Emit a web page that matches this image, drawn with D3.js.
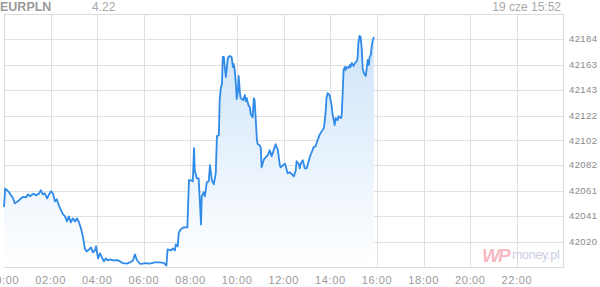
<!DOCTYPE html>
<html><head><meta charset="utf-8">
<script src="https://cdn.jsdelivr.net/npm/d3@7"></script>
<style>
html,body{margin:0;padding:0;background:#fff;}
svg{display:block;font-family:"Liberation Sans",Arial,sans-serif;}
</style></head>
<body>
<svg id="chart" width="600" height="287"></svg>
<script>
// ---- data ----
const symbol = "EURPLN";
const lastPrice = "4.22";
const stamp = "19 cze 15:52";
// minutes after midnight
const times = [0,3,8,13,18,23,28,36,41,49,57,62,67,75,82,90,95,100,105,111,116,121,126,131,136,141,147,152,157,162,167,172,177,183,188,193,198,203,208,213,219,224,229,234,237,242,247,252,257,262,267,273,280,291,298,306,316,324,332,337,342,350,357,365,375,388,401,411,418,421,429,435,440,442,447,450,455,463,472,476,481,486,489,491,496,501,504,507,509,514,517,522,527,530,535,540,545,548,553,555,558,561,563,566,568,571,573,576,581,586,589,591,594,597,599,602,604,607,609,615,617,620,622,625,627,630,633,635,640,643,645,651,653,658,661,663,669,674,679,684,689,694,699,705,710,712,717,723,728,730,735,741,746,751,753,759,761,764,769,774,779,782,787,792,797,802,807,813,818,823,825,828,830,833,838,841,843,846,849,851,854,859,861,867,869,872,874,877,879,882,887,890,892,895,900,903,908,910,912,915,918,921,923,926,931,933,936,939,941,944,946,949,952];
const values = [42047.9,42062.9,42061.5,42059.9,42057.4,42055.2,42050.9,42052.6,42054.2,42056.1,42055.8,42058.2,42056.6,42058.8,42057.4,42058.8,42061.5,42058.2,42059.0,42055.0,42058.2,42060.7,42059.0,42052.6,42054.2,42049.3,42045.3,42042.0,42040.4,42036.3,42040.4,42035.5,42038.8,42036.3,42038.8,42035.5,42030.7,42024.2,42014.4,42012.0,42013.6,42015.3,42011.2,42012.8,42016.1,42006.3,42010.4,42007.1,42003.9,42006.3,42004.7,42005.5,42004.7,42004.9,42004.1,42002.5,42002.2,42003.1,42004.7,42009.6,42005.1,42002.0,42002.2,42002.5,42002.2,42003.1,42003.1,42002.7,42000.6,42013.6,42012.8,42014.4,42012.8,42017.7,42016.1,42027.4,42029.9,42031.5,42031.5,42069.6,42069.6,42068.8,42095.6,42077.7,42071.2,42071.2,42053.4,42033.9,42056.6,42059.9,42056.6,42068.0,42068.8,42081.8,42069.6,42066.4,42075.3,42105.3,42106.1,42134.5,42144.2,42147.5,42169.4,42169.4,42162.1,42153.2,42158.8,42168.6,42170.2,42169.4,42161.3,42163.7,42158.8,42146.7,42135.3,42141.8,42154.0,42141.0,42136.1,42134.5,42136.1,42138.6,42133.7,42136.1,42132.9,42129.6,42128.8,42123.1,42120.7,42136.1,42134.5,42102.1,42098.8,42098.0,42095.6,42080.1,42086.6,42088.3,42089.9,42093.9,42089.1,42093.9,42098.8,42093.9,42081.4,42080.1,42081.4,42083.1,42077.7,42075.3,42076.1,42074.5,42072.8,42077.7,42085.0,42082.6,42079.3,42083.4,42085.8,42079.3,42079.3,42082.6,42088.3,42092.3,42096.4,42097.2,42102.1,42106.9,42109.4,42111.8,42115.9,42125.6,42136.1,42140.2,42138.6,42133.7,42130.5,42122.3,42118.3,42114.2,42119.9,42118.3,42121.5,42119.9,42121.5,42142.6,42158.8,42161.3,42158.8,42161.3,42160.5,42162.9,42161.3,42164.5,42162.1,42164.5,42166.1,42168.6,42180.7,42186.4,42185.6,42175.1,42160.5,42156.4,42154.0,42158.8,42167.0,42162.9,42169.4,42171.0,42177.5,42182.4,42185.6];
const yTicks = [42020,42041,42061,42082,42102,42122,42143,42163,42184];
const xTickHours = [0,2,4,6,8,10,12,14,16,18,20,22];
const xTickLabels = ["00:00","02:00","04:00","06:00","08:00","10:00","12:00","14:00","16:00","18:00","20:00","22:00"];
const yDomain = [41999.8, 42204.2];
const xDomain = [0, 1440];

// ---- drawing ----
const svg = d3.select("#chart");
const L = 4, R = 563.5, T = 14, B = 266.5;
const x = d3.scaleLinear().domain(xDomain).range([L, R]);
const y = d3.scaleLinear().domain(yDomain).range([B, T]);
const data = times.map((t,i)=>({t, v: values[i]}));

const defs = svg.append("defs");
const g = defs.append("linearGradient").attr("id","fillGrad")
  .attr("gradientUnits","userSpaceOnUse").attr("x1",0).attr("x2",0).attr("y1",T).attr("y2",B);
g.append("stop").attr("offset","0%").attr("stop-color","#c9e1f8");
g.append("stop").attr("offset","100%").attr("stop-color","#ffffff");

// grid
const grid = svg.append("g").attr("stroke","#e0e0e0").attr("stroke-width",1).attr("shape-rendering","crispEdges");
grid.selectAll("line.h").data(yTicks).join("line")
  .attr("x1",L).attr("x2",R).attr("y1",d=>Math.round(y(d))+0.5).attr("y2",d=>Math.round(y(d))+0.5);
grid.selectAll("line.v").data(xTickHours.slice(1)).join("line")
  .attr("x1",d=>Math.round(x(d*60))+0.5).attr("x2",d=>Math.round(x(d*60))+0.5).attr("y1",T).attr("y2",B);
// frame
svg.append("rect").attr("x",L+0.5).attr("y",T+0.5).attr("width",R-L-1).attr("height",B-T)
  .attr("fill","none").attr("stroke","#dcdcdc").attr("shape-rendering","crispEdges");

// watermark
const wm = svg.append("g");
wm.append("text").attr("x",482).attr("y",262).attr("font-size",19).attr("font-weight","bold")
  .attr("fill","#f6b9c3").attr("font-style","italic").attr("letter-spacing",-2).text("WP");
wm.append("text").attr("x",512).attr("y",259).attr("font-size",12.5)
  .attr("fill","#c9cee2").attr("letter-spacing",-0.3).text("money.pl");

// area + line
svg.append("path").datum(data)
  .attr("d", d3.area().x(d=>x(d.t)).y0(B).y1(d=>y(d.v)))
  .attr("fill","url(#fillGrad)");
svg.append("path").datum(data)
  .attr("d", d3.line().x(d=>x(d.t)).y(d=>y(d.v)))
  .attr("fill","none").attr("stroke","#2f8ae8").attr("stroke-width",1.8)
  .attr("stroke-linejoin","round");

// axes labels
svg.append("g").selectAll("text").data(yTicks).join("text")
  .attr("x",569).attr("y",d=>y(d)+3.5).attr("font-size",9.5).attr("fill","#8a8a8a")
  .attr("letter-spacing",0.4).text(d=>d);
svg.append("g").selectAll("text").data(xTickHours).join("text")
  .attr("x",d=>x(d*60)).attr("y",284).attr("text-anchor","middle").attr("font-size",11)
  .attr("fill","#9a9a9a").attr("letter-spacing",0.6).text((d,i)=>xTickLabels[i]);

// header
svg.append("text").attr("x",0).attr("y",11).attr("font-size",12.5).attr("font-weight","bold")
  .attr("fill","#9a9a9a").text(symbol);
svg.append("text").attr("x",92).attr("y",11).attr("font-size",12).attr("fill","#a8a8a8").text(lastPrice);
svg.append("text").attr("x",561).attr("y",11).attr("text-anchor","end").attr("font-size",12)
  .attr("fill","#a8a8a8").text(stamp);
</script>
</body></html>
